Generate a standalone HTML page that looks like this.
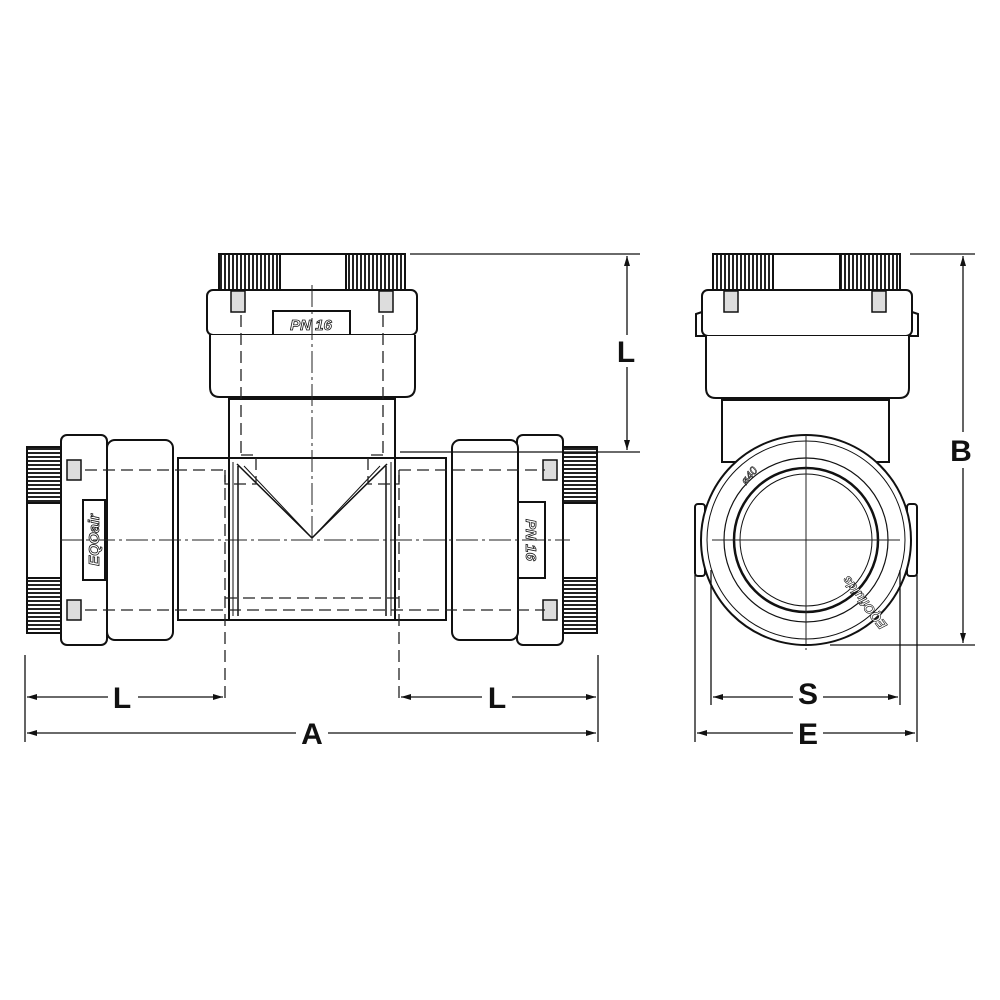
<!DOCTYPE html>
<html><head><meta charset="utf-8"><style>html,body{margin:0;background:#fff}svg{display:block}</style></head>
<body>
<svg width="1000" height="1000" viewBox="0 0 1000 1000" xmlns="http://www.w3.org/2000/svg" font-family="Liberation Sans, sans-serif">
<defs>
<pattern id="kv" width="4" height="10" patternUnits="userSpaceOnUse"><rect width="4" height="10" fill="#fff"/><rect width="2" height="10" fill="#222"/></pattern>
<pattern id="kh" width="10" height="4" patternUnits="userSpaceOnUse"><rect width="10" height="4" fill="#fff"/><rect width="10" height="2" fill="#222"/></pattern>
<marker id="ar" markerWidth="10" markerHeight="8" refX="10" refY="4" orient="auto-start-reverse" markerUnits="userSpaceOnUse"><path d="M0,1 L10,4 L0,7 Z" fill="#111"/></marker>
</defs>
<g fill="none" stroke="#111" stroke-width="2">
<rect x="219" y="254" width="61" height="36" fill="url(#kv)"/>
<rect x="346" y="254" width="59" height="36" fill="url(#kv)"/>
<rect x="280" y="254" width="66" height="36" fill="#fff"/>
<rect x="207" y="290" width="210" height="45" rx="6" fill="#fff"/>
<rect x="231" y="291" width="14" height="21" fill="#ddd" stroke-width="1.5"/>
<rect x="379" y="291" width="14" height="21" fill="#ddd" stroke-width="1.5"/>
<rect x="273" y="311" width="77" height="24" fill="#fff"/>
<path d="M210,335 V387 Q210,397 220,397 H405 Q415,397 415,387 V335" fill="#fff"/>
<rect x="229" y="399" width="166" height="60" fill="#fff"/>
<rect x="178" y="458" width="268" height="162" fill="#fff"/>
<line x1="229" y1="458" x2="229" y2="620"/><line x1="395" y1="458" x2="395" y2="620"/>
<line x1="233" y1="462" x2="233" y2="616" stroke-width="1"/><line x1="391" y1="462" x2="391" y2="616" stroke-width="1"/>
<line x1="238" y1="466" x2="238" y2="616" stroke-width="1.5"/><line x1="386" y1="466" x2="386" y2="616" stroke-width="1.5"/>
<path d="M237,464 L312,538 L387,464" stroke-width="1.5"/>
<path d="M244,466 L312,538 L380,466" stroke-width="1"/>
<rect x="27" y="447" width="34" height="56" fill="url(#kh)"/>
<rect x="27" y="578" width="34" height="55" fill="url(#kh)"/>
<rect x="27" y="503" width="34" height="75" fill="#fff"/>
<rect x="61" y="435" width="46" height="210" rx="6" fill="#fff"/>
<rect x="107" y="440" width="66" height="200" rx="8" fill="#fff"/>
<rect x="67" y="460" width="14" height="20" fill="#ddd" stroke-width="1.5"/>
<rect x="67" y="600" width="14" height="20" fill="#ddd" stroke-width="1.5"/>
<rect x="83" y="500" width="22" height="80" fill="#fff"/>
<rect x="563" y="447" width="34" height="56" fill="url(#kh)"/>
<rect x="563" y="578" width="34" height="55" fill="url(#kh)"/>
<rect x="563" y="503" width="34" height="75" fill="#fff"/>
<rect x="517" y="435" width="46" height="210" rx="6" fill="#fff"/>
<rect x="452" y="440" width="66" height="200" rx="8" fill="#fff"/>
<rect x="543" y="460" width="14" height="20" fill="#ddd" stroke-width="1.5"/>
<rect x="543" y="600" width="14" height="20" fill="#ddd" stroke-width="1.5"/>
<rect x="518" y="502" width="27" height="76" fill="#fff"/>
</g>
<g fill="none" stroke="#222" stroke-width="1.3" stroke-dasharray="12,6">
<line x1="241" y1="315" x2="241" y2="458"/><line x1="383" y1="315" x2="383" y2="458"/>
<line x1="85" y1="470" x2="225" y2="470"/><line x1="399" y1="470" x2="545" y2="470"/>
<line x1="85" y1="610" x2="545" y2="610"/>
<line x1="225" y1="598" x2="400" y2="598"/>
<path d="M241,455 H256 V484 H225 V470"/><path d="M383,455 H368 V484 H399 V470"/>
<line x1="225" y1="470" x2="225" y2="700"/><line x1="399" y1="470" x2="399" y2="700"/>
</g>
<g fill="none" stroke="#222" stroke-width="1" stroke-dasharray="22,4,3,4">
<line x1="312" y1="285" x2="312" y2="540"/>
<line x1="60" y1="540" x2="570" y2="540"/>
<line x1="806" y1="285" x2="806" y2="650"/>
</g>
<g fill="none" stroke="#111" stroke-width="2">
<rect x="713" y="254" width="60" height="36" fill="url(#kv)"/>
<rect x="840" y="254" width="60" height="36" fill="url(#kv)"/>
<rect x="773" y="254" width="67" height="36" fill="#fff"/>
<rect x="702" y="290" width="210" height="46" rx="6" fill="#fff"/>
<rect x="724" y="291" width="14" height="21" fill="#ddd" stroke-width="1.5"/>
<rect x="872" y="291" width="14" height="21" fill="#ddd" stroke-width="1.5"/>
<path d="M702,312 L696,314 V336 H707"/><path d="M912,312 L918,314 V336 H907"/>
<path d="M706,336 V388 Q706,398 716,398 H899 Q909,398 909,388 V336" fill="#fff"/>
<rect x="722" y="400" width="167" height="62" fill="#fff"/>
<rect x="695" y="504" width="10" height="72" rx="3" fill="#fff"/>
<rect x="907" y="504" width="10" height="72" rx="3" fill="#fff"/>
<circle cx="806" cy="540" r="105" fill="#fff"/>
<circle cx="806" cy="540" r="99" stroke-width="1"/>
<circle cx="806" cy="540" r="82" stroke-width="1.2"/>
<circle cx="806" cy="540" r="72" stroke-width="2.5"/>
<circle cx="806" cy="540" r="66" stroke-width="1"/>
</g>
<g stroke="#222" stroke-width="1" fill="none">
<line x1="712" y1="540" x2="900" y2="540"/>
<line x1="806" y1="435" x2="806" y2="645"/>
</g>
<text x="311" y="330" font-size="15" font-style="italic" font-weight="bold" text-anchor="middle" fill="#fff" stroke="#111" stroke-width="0.8">PN 16</text>
<text transform="translate(99,540) rotate(-90)" font-size="15" font-style="italic" font-weight="bold" text-anchor="middle" fill="#fff" stroke="#111" stroke-width="0.8">EQOair</text>
<text transform="translate(526,540) rotate(90)" font-size="15" font-style="italic" font-weight="bold" text-anchor="middle" fill="#fff" stroke="#111" stroke-width="0.8">PN 16</text>
<text transform="translate(752,478) rotate(-50)" font-size="11" font-style="italic" text-anchor="middle" fill="#fff" stroke="#111" stroke-width="0.6">ø40</text>
<text transform="translate(868,600) rotate(-128)" font-size="13" font-style="italic" font-weight="bold" text-anchor="middle" fill="#fff" stroke="#111" stroke-width="0.6">EQOfluids</text>
<g stroke="#111" stroke-width="1.3" fill="none">
<line x1="410" y1="254" x2="640" y2="254"/><line x1="400" y1="452" x2="640" y2="452"/>
<line x1="627" y1="256" x2="627" y2="450" marker-start="url(#ar)" marker-end="url(#ar)"/>
<line x1="25" y1="655" x2="25" y2="742"/><line x1="598" y1="655" x2="598" y2="742"/>
<line x1="27" y1="697" x2="223" y2="697" marker-start="url(#ar)" marker-end="url(#ar)"/>
<line x1="401" y1="697" x2="596" y2="697" marker-start="url(#ar)" marker-end="url(#ar)"/>
<line x1="27" y1="733" x2="596" y2="733" marker-start="url(#ar)" marker-end="url(#ar)"/>
<line x1="910" y1="254" x2="975" y2="254"/><line x1="830" y1="645" x2="975" y2="645"/>
<line x1="963" y1="256" x2="963" y2="643" marker-start="url(#ar)" marker-end="url(#ar)"/>
<line x1="711" y1="570" x2="711" y2="705"/><line x1="900" y1="570" x2="900" y2="705"/>
<line x1="695" y1="575" x2="695" y2="742"/><line x1="917" y1="575" x2="917" y2="742"/>
<line x1="713" y1="697" x2="898" y2="697" marker-start="url(#ar)" marker-end="url(#ar)"/>
<line x1="697" y1="733" x2="915" y2="733" marker-start="url(#ar)" marker-end="url(#ar)"/>
</g>
<g font-size="30" font-weight="bold" fill="#111" text-anchor="middle">
<rect x="608" y="335" width="36" height="32" fill="#fff"/>
<text x="626" y="362">L</text>
<rect x="108" y="682" width="30" height="30" fill="#fff"/>
<text x="122" y="708">L</text>
<rect x="482" y="682" width="30" height="30" fill="#fff"/>
<text x="497" y="708">L</text>
<rect x="296" y="718" width="32" height="30" fill="#fff"/>
<text x="312" y="744">A</text>
<rect x="946" y="432" width="34" height="36" fill="#fff"/>
<text x="961" y="461">B</text>
<rect x="793" y="680" width="30" height="30" fill="#fff"/>
<text x="808" y="704">S</text>
<rect x="793" y="718" width="30" height="30" fill="#fff"/>
<text x="808" y="744">E</text>
</g>
</svg>
</body></html>
